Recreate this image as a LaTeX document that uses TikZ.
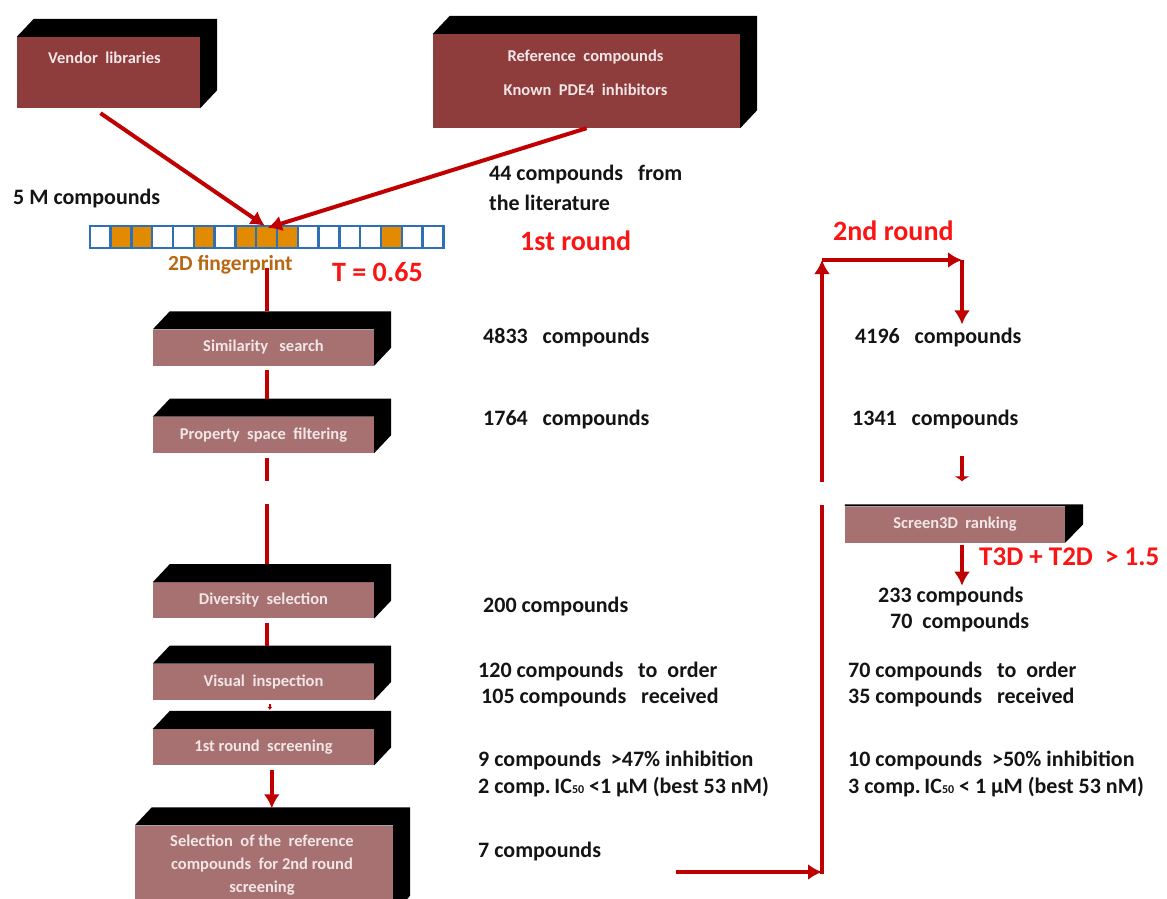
\documentclass[tikz,border=0pt]{standalone}
\usepackage{fontspec}
\setmainfont{Carlito}
\usepackage{tikz}
\usetikzlibrary{arrows.meta,positioning,calc}
\definecolor{sourcered}{RGB}{142,60,60}
\definecolor{stagered}{RGB}{166,113,112}
\definecolor{flowred}{RGB}{192,0,0}
\definecolor{labelred}{RGB}{250,20,20}
\definecolor{fpblue}{RGB}{46,112,182}
\definecolor{fporange}{RGB}{226,138,0}
\definecolor{fpbrown}{RGB}{184,104,18}
\definecolor{boxwhite}{RGB}{242,230,230}
\definecolor{ink}{RGB}{20,20,20}
\tikzstyle{source}=[fill=sourcered,inner sep=0pt]
\tikzstyle{boxtext}=[text=boxwhite,inner sep=0pt,font=\bfseries\fontsize{16.5}{18}\selectfont]
\tikzstyle{stage}=[fill=stagered,inner sep=0pt,minimum width=221pt,minimum height=36pt,boxtext]
\tikzstyle{tally}=[anchor=west,inner sep=0pt,text=ink,font=\bfseries\fontsize{22}{24}\selectfont]
\tikzstyle{redtext}=[anchor=west,inner sep=0pt,text=labelred,font=\bfseries\fontsize{28}{30}\selectfont]
\tikzstyle{flow}=[draw=flowred,line width=4pt]
\tikzstyle{flowarrow}=[flow,-{Latex[width=16pt,length=14pt]}]
\newcommand{\slab}[1]{\fill[black] (#1.north west) -- ++(17,-18) -- ($(#1.north east)+(17,-18)$) -- ($(#1.south east)+(17,-18)$) -- (#1.south east) -- (#1.north east) -- cycle;}
\begin{document}
\begin{tikzpicture}[x=1pt,y=-1pt]
\clip (0,0) rectangle (1167,899);
\fill[white] (0,0) rectangle (1167,899);

% sources
\node[source,minimum width=183pt,minimum height=71pt] (vendor) at (108.5,72.5) {};
\slab{vendor}
\node[boxtext] (vendortxt) at ($(vendor.north)+(-4,21)$) {Vendor\ \ libraries};
\node[source,minimum width=307pt,minimum height=94pt] (refc) at (586.5,81) {};
\slab{refc}
\node[boxtext,align=center,font=\bfseries\fontsize{16.5}{34}\selectfont] (refctxt) at ($(refc.north)+(-1,39)$) {Reference\ \ compounds\\Known\ \ PDE4\ \ inhibitors};

% fingerprint
\node[minimum width=353.6pt,minimum height=22pt,inner sep=0pt] (fp) at (266.8,237) {};
\foreach \i in {1,2,5,7,8,9,14}
  \fill[fporange] ($(fp.north west)+(\i*20.8,0)$) rectangle ++(20.8,22);
\foreach \i in {0,...,16}
  \draw[fpblue,line width=2.5pt] ($(fp.north west)+(\i*20.8,0)$) rectangle ++(20.8,22);
\node[anchor=west,inner sep=0pt,text=fpbrown,font=\bfseries\fontsize{21.5}{24}\selectfont] (fplabel) at (168,265) {2D fingerprint};

% first round stages
\node[stage] (sim) at (263.5,347.5) {Similarity\ \ \ search};
\node[stage,below=51pt of sim] (prop) {Property\ \ space\ \ filtering};
\node[stage,below=129pt of prop] (div) {Diversity\ \ selection};
\node[stage,below=45pt of div] (vis) {Visual\ \ inspection};
\node[stage,below=29pt of vis] (scr) {1st round\ \ screening};
\node[stage,minimum width=258pt,minimum height=88pt,below=60pt of scr,xshift=0.5pt] (sel) {};
\foreach \n in {sim,prop,div,vis,scr,sel} {\slab{\n}}
\node[boxtext,align=center,font=\bfseries\fontsize{16.5}{23}\selectfont] (seltxt) at ($(sel.north)+(-2,40)$) {Selection\ \ of the\ \ reference\\compounds\ \ for 2nd round\\screening};

% screen3d
\node[stage,minimum width=220pt] (s3d) at (955,524.5) {Screen3D\ \ ranking};
\fill[black] ($(s3d.north west)+(0,-2)$) -- ($(s3d.north east)+(18,-2)$) -- ($(s3d.north east)+(18,18)$) -- (s3d.south east) -- (s3d.north east) -- (s3d.north west) -- cycle;

% texts
\node[tally] (fivem) at (13,199) {5 M compounds};
\node[tally] (lit) at (489,175) {44 compounds\ \ \ from};
\node[tally] (lit2) at (489,203) {the literature};
\node[redtext] (round1) at (520,241) {1st round};
\node[redtext] (round2) at (833,231) {2nd round};
\node[redtext] (thr) at (332,272) {T = 0.65};
\node[tally] (n4833) at (483,338) {4833\ \ \ compounds};
\node[tally] (n1764) at (483,420) {1764\ \ \ compounds};
\node[tally] (n200) at (483,607) {200 compounds};
\node[tally] (n120) at (478,672) {120 compounds\ \ \ to\ \ order};
\node[tally] (n105) at (481,698) {105 compounds\ \ \ received};
\node[tally] (n9) at (478,760) {9 compounds\ \ >47\% inhibition};
\node[tally] (ic1) at (478,787) {2 comp.\,IC{\fontsize{12}{12}\selectfont 50} <1 µM (best 53 nM)};
\node[tally] (n7) at (478,852) {7 compounds};
\node[tally] (n4196) at (855,338) {4196\ \ \ compounds};
\node[tally] (n1341) at (852,420) {1341\ \ \ compounds};
\node[redtext,font=\bfseries\fontsize{27}{30}\selectfont] (t3d) at (979,557) {T3D + T2D\ \ > 1.5};
\node[tally] (n233) at (878,597) {233 compounds};
\node[tally] (n70) at (890,623) {70\ \ compounds};
\node[tally] (n70b) at (848,672) {70 compounds\ \ \ to\ \ order};
\node[tally] (n35) at (848,698) {35 compounds\ \ \ received};
\node[tally] (n10) at (848,760) {10 compounds\ \ >50\% inhibition};
\node[tally] (ic2) at (848,787) {3 comp.\,IC{\fontsize{12}{12}\selectfont 50} < 1 µM (best 53 nM)};

% first round flow
\draw[flowarrow] ($(vendor.south)+(-8,5)$) -- ($(fp.north)+(-2,0)$);
\draw[flowarrow] (refc.south) -- ($(fp.north)+(1,2)$);
\draw[flow] ($(fp.south)+(0,20)$) -- ($(fp.south |- sim.north)+(0,-18)$);
\draw[flow] ($(fp.south |- sim.south)+(0,4)$) -- ($(fp.south |- prop.north)+(0,-18)$);
\draw[flow,dash pattern=on 23pt off 23pt on 90pt] ($(fp.south |- prop.south)+(0,5)$) -- ($(fp.south |- div.north)+(0,-18)$);
\draw[flow] ($(fp.south |- div.south)+(0,4)$) -- ($(fp.south |- vis.north)+(0,-18)$);
\draw[flow,line width=2pt,-{Latex[width=5pt,length=3pt]}] ($(fp.south |- vis.south)+(3,4)$) -- ++(0,6);
\draw[flowarrow] ($(fp.south |- scr.south)+(5,5)$) -- ($(fp.south |- sel.north)+(5,-17)$);

% second round flow
\coordinate (hook) at (676,872);
\coordinate (foot) at (822,872);
\coordinate (head) at (822,260);
\coordinate (knee) at (962,260);
\draw[flowarrow] (hook) -- (foot);
\draw[flowarrow,dash pattern=on 369pt off 23pt on 500pt] ($(foot)+(0,2)$) -- (head);
\draw[flowarrow] (head) -- (knee);
\draw[flowarrow] (knee) -- ($(knee |- n4196.north)+(0,-4)$);
\draw[flow,-{Latex[width=16pt,length=5pt]}] ($(knee |- s3d.north)+(0,-50)$) -- ($(knee |- s3d.north)+(0,-25)$);
\draw[flowarrow] ($(knee |- s3d.south)+(0,2)$) -- ($(knee |- s3d.south)+(0,43)$);
\end{tikzpicture}
\end{document}
